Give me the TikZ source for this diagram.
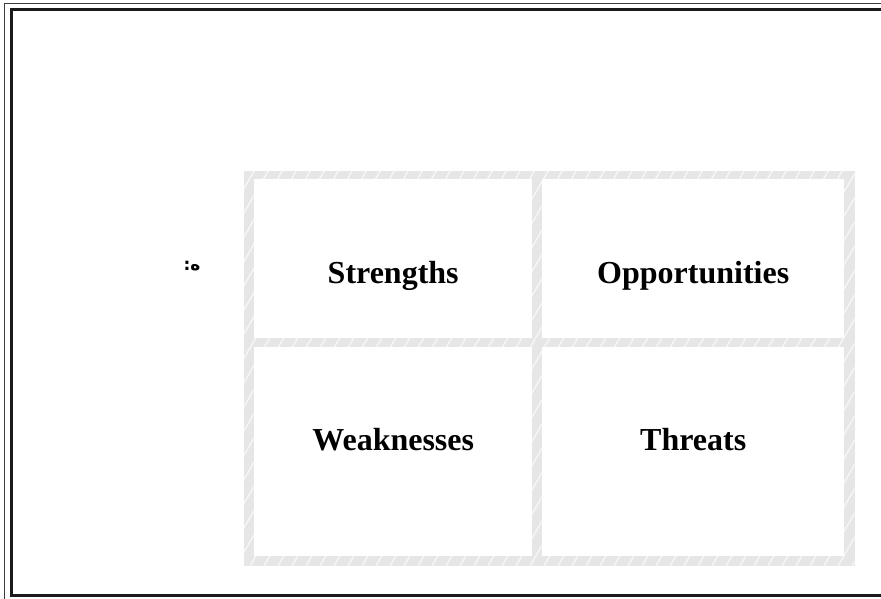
\documentclass[tikz,border=0pt]{standalone}
\usepackage{fontspec}
\setmainfont{Liberation Serif}
\newfontfamily\arabicfont[Script=Arabic]{DejaVu Sans}
\TeXXeTstate=1
\usetikzlibrary{positioning,calc}
\definecolor{frameInk}{HTML}{1A1A1A}
\definecolor{hatchGrey}{HTML}{E6E6E6}
\definecolor{hatchLight}{HTML}{F7F7F7}
\tikzset{
  outerRule/.style={draw=frameInk!85,line width=1.6pt},
  innerRule/.style={draw=frameInk,line width=3pt},
  swotCell/.style={draw=none,fill=white,inner sep=0pt,anchor=north west},
  swotText/.style={font=\fontsize{32}{38}\selectfont\bfseries,text=black,
                   inner sep=0pt,anchor=base},
  hatchStripe/.style={draw=hatchLight,line width=1.3pt},
}
\begin{document}
\begin{tikzpicture}[x=1pt,y=-1pt]
\useasboundingbox (0,0) rectangle (881,598);

% page border, cut off on the right and at the bottom
\draw[outerRule] (4.5,3.5) rectangle (900,620);
\draw[innerRule] (11,9.5) rectangle (890,595);

% hatched frame of the table
\coordinate (tblNW) at (243.5,171);
\coordinate (tblSE) at (854.5,566);
\fill[hatchGrey] (tblNW) rectangle (tblSE);
\begin{scope}
  \clip (tblNW) rectangle (tblSE);
  \foreach \k in {0,...,62} {
    \draw[hatchStripe] ({12+\k*14},566) -- ++(231,-400);
  }
\end{scope}

\node[swotCell,minimum width=278pt,minimum height=159pt] (strengths)     at (254,179) {};
\node[swotCell,minimum width=302pt,minimum height=159pt] (opportunities) at (542,179) {};
\node[swotCell,minimum width=278pt,minimum height=209pt] (weaknesses)    at (254,347) {};
\node[swotCell,minimum width=302pt,minimum height=209pt] (threats)       at (542,347) {};

\node[swotText] (strengthsLbl)     at ([yshift=-25pt]strengths.center)     {Strengths};
\node[swotText] (opportunitiesLbl) at ([yshift=-25pt]opportunities.center) {Opportunities};
\node[swotText] (weaknessesLbl)    at ([yshift=1.5pt]weaknesses.center)    {Weaknesses};
\node[swotText] (threatsLbl)       at ([yshift=1.5pt]threats.center)       {Threats};

\node[font=\arabicfont\bfseries\fontsize{17}{20}\selectfont,inner sep=0pt] (heLbl) at (192,266)
  {\beginR ه:\endR};

\end{tikzpicture}
\end{document}
